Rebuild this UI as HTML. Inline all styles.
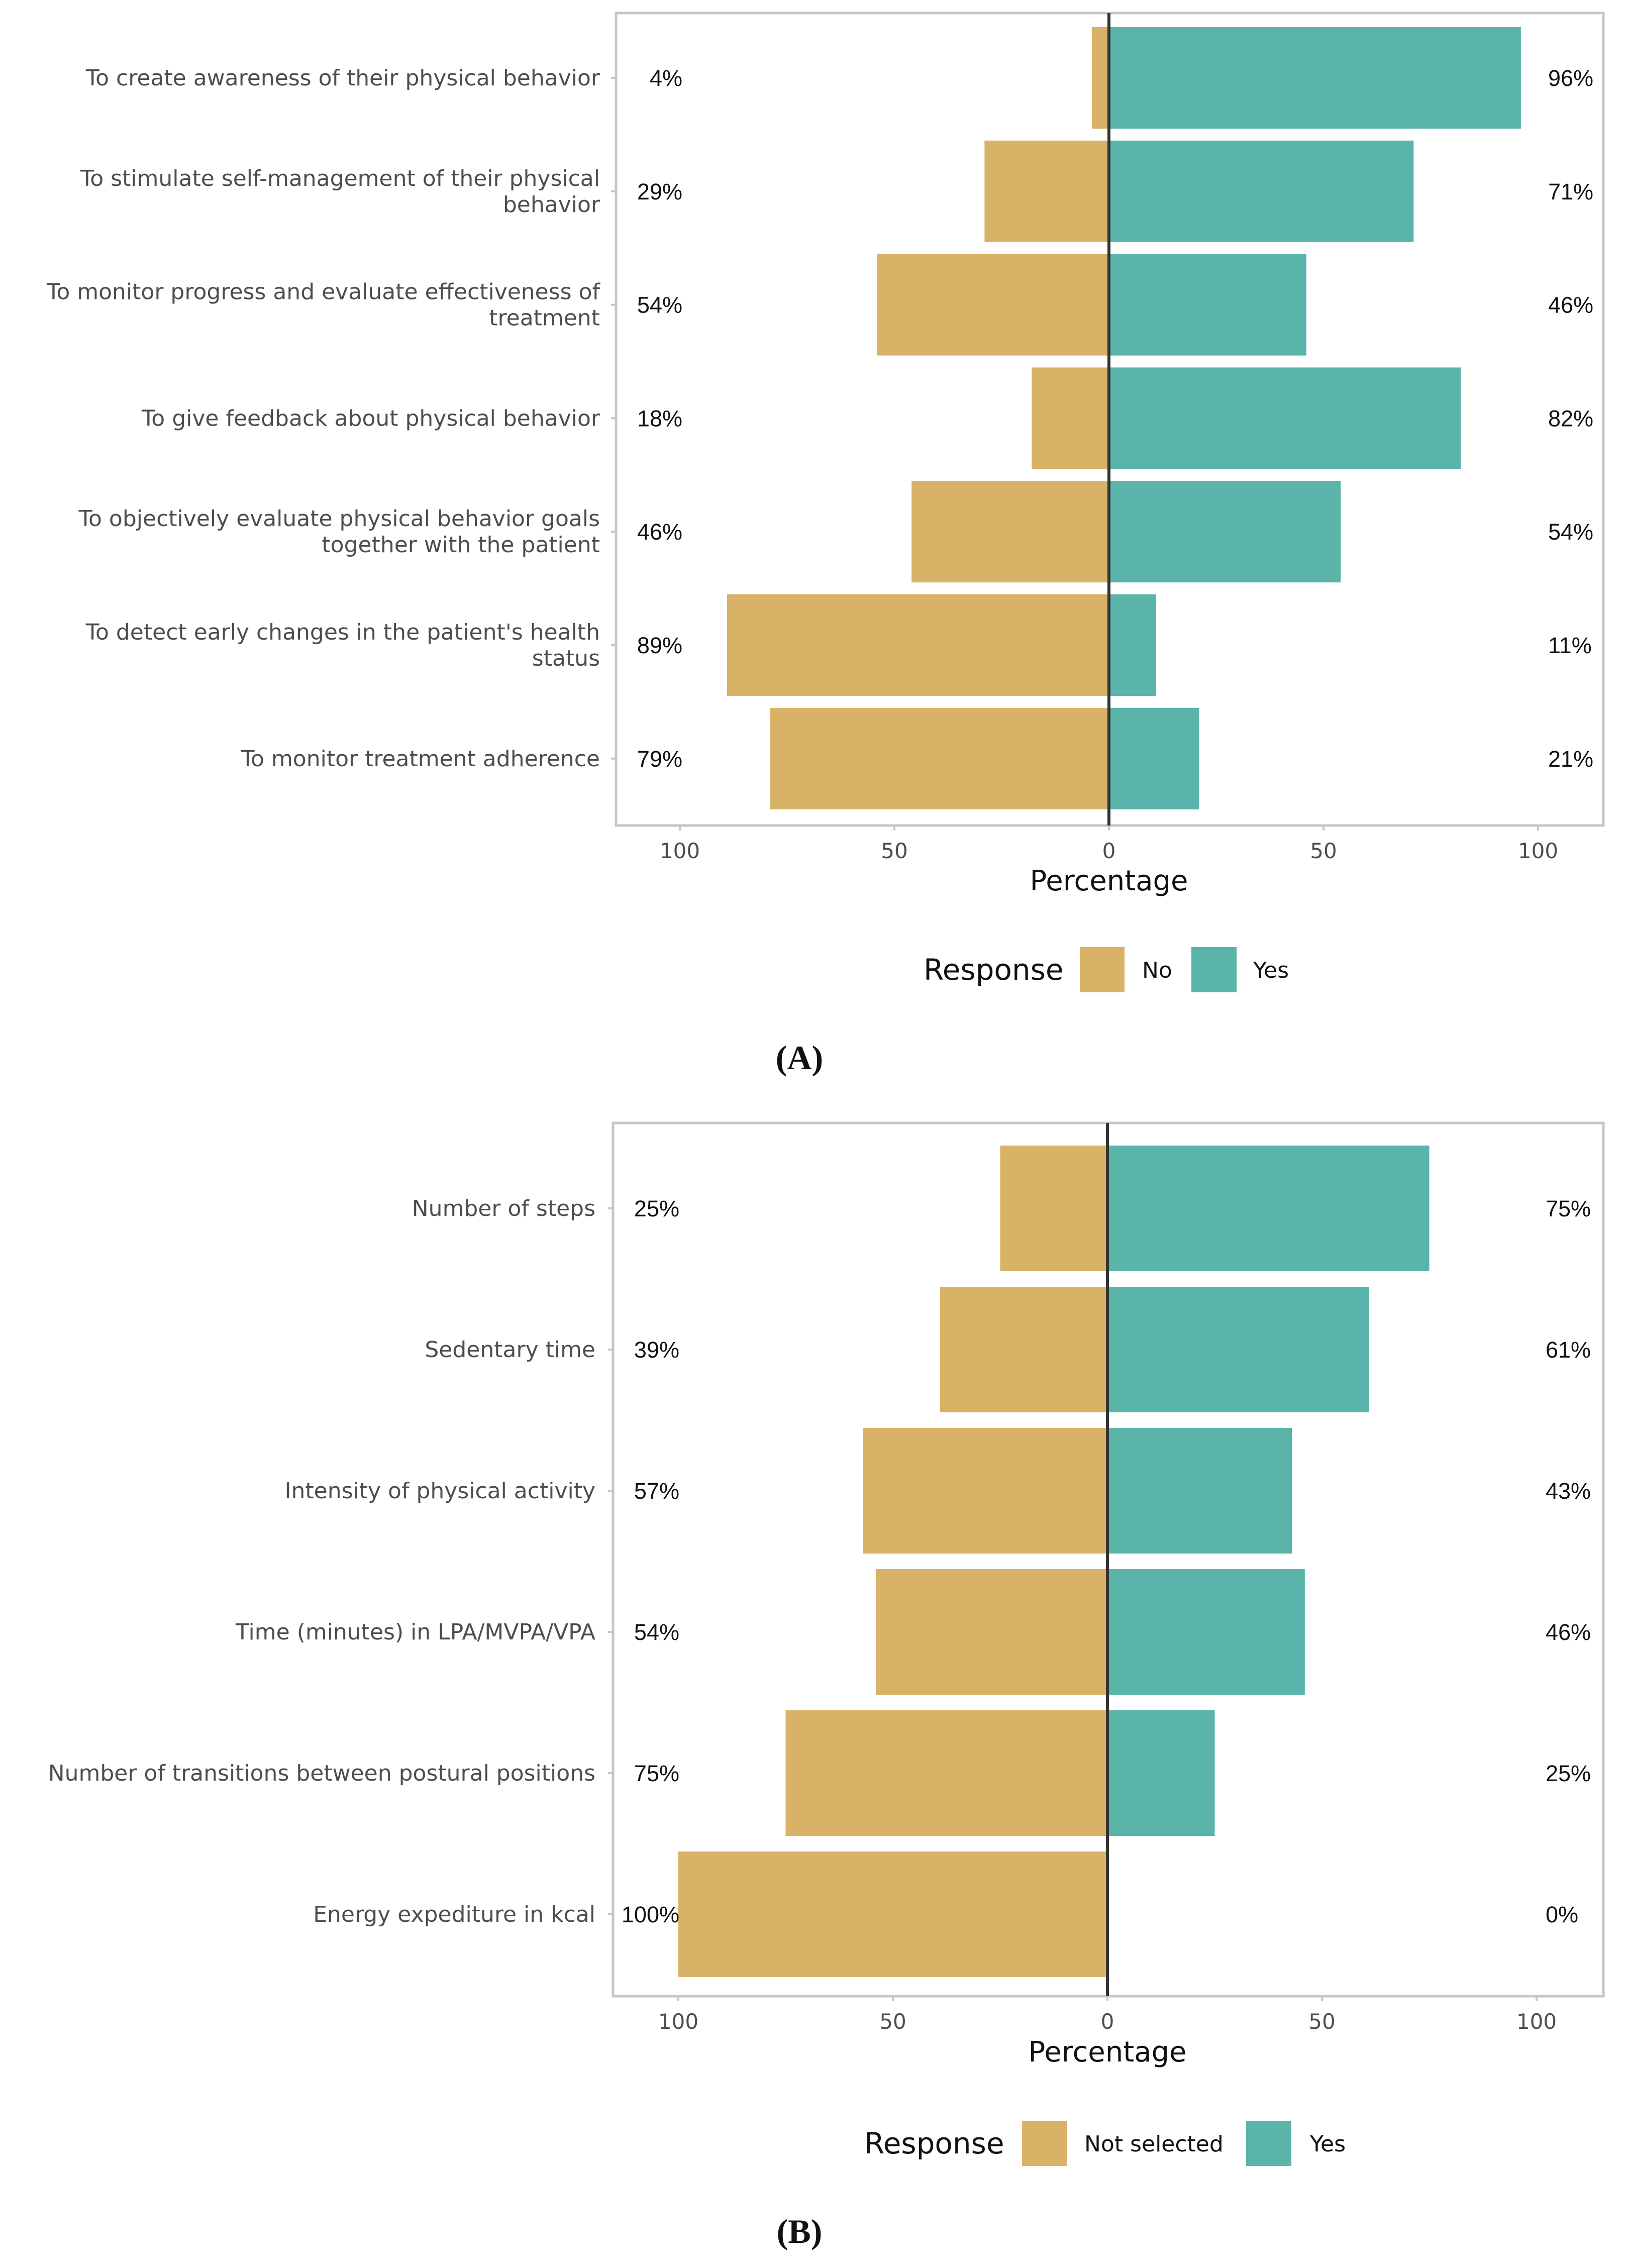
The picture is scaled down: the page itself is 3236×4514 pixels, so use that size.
<!DOCTYPE html>
<html><head><meta charset="utf-8"><style>
html,body{margin:0;padding:0;background:#fff;}
svg{display:block;font-family:"Liberation Sans",sans-serif;}
</style></head><body>
<svg id="svg" width="3236" height="4514" viewBox="0 0 3236 4514" xmlns="http://www.w3.org/2000/svg"></svg>
<script>
const catsA = [["To create awareness of their physical behavior"],["To stimulate self-management of their physical","behavior"],["To monitor progress and evaluate effectiveness of","treatment"],["To give feedback about physical behavior"],["To objectively evaluate physical behavior goals","together with the patient"],["To detect early changes in the patient's health","status"],["To monitor treatment adherence"]];
const noA = [4,29,54,18,46,89,79];
const yesA = [96,71,46,82,54,11,21];
const catsB = [["Number of steps"],["Sedentary time"],["Intensity of physical activity"],["Time (minutes) in LPA/MVPA/VPA"],["Number of transitions between postural positions"],["Energy expediture in kcal"]];
const noB = [25,39,57,54,75,100];
const yesB = [75,61,43,46,25,0];
const ticks = [-100,-50,0,50,100];
const tickLabels = ["100","50","0","50","100"];

const NS="http://www.w3.org/2000/svg";
const svg=document.getElementById('svg');
const WIDE='"DejaVu Sans", sans-serif';
function mk(tag,attrs,parent,name){const e=document.createElementNS(NS,tag);for(const k in attrs)e.setAttribute(k,attrs[k]);


(parent||svg).appendChild(e);return e;}
const GOLD="#D8B266",TEAL="#5BB4AA";

function panel(o){
  const g=mk('g',{},svg,o.id);
  const x=v=>o.x0+v*(o.x100-o.x0)/100;
  mk('rect',{x:o.L,y:o.T,width:o.R-o.L,height:o.B-o.T,fill:'#fff',stroke:'#c6c6c6','stroke-width':5},g,'panel-border');
  ticks.forEach((t,i)=>{
    mk('line',{x1:x(t),x2:x(t),y1:o.B,y2:o.B+10,stroke:'#c6c6c6','stroke-width':4},g,'x-tick');
    const tx=mk('text',{x:x(t),y:o.tickY,'font-size':42,fill:'#4d4d4d','text-anchor':'middle','font-family':WIDE},g,'x-tick-label');tx.textContent=tickLabels[i];
  });
  o.cats.forEach((c,i)=>{
    const cy=o.c0+i*o.step, h=o.bh;
    mk('rect',{x:x(-o.no[i]),y:cy-h/2,width:x(0)-x(-o.no[i]),height:h,fill:GOLD},g,'bar-no');
    mk('rect',{x:x(0),y:cy-h/2,width:x(o.yes[i])-x(0),height:h,fill:TEAL},g,'bar-yes');
    const n=c.length;
    c.forEach((ln,j)=>{const t=mk('text',{x:o.labX,y:cy+15+(j-(n-1)/2)*52,'font-size':44,fill:'#4d4d4d','text-anchor':'end','font-family':WIDE},g,'category-label');t.textContent=ln;});
    mk('line',{x1:o.L-10,x2:o.L,y1:cy,y2:cy,stroke:'#c6c6c6','stroke-width':4},g,'y-tick');
    const p=mk('text',{x:o.pnX,y:cy+16,'font-size':45,fill:'#111','text-anchor':'end'},g,'no-percent-label');p.textContent=o.no[i]+'%';
    const q=mk('text',{x:o.pyX,y:cy+16,'font-size':45,fill:'#111','text-anchor':'start'},g,'yes-percent-label');q.textContent=o.yes[i]+'%';
  });
  mk('line',{x1:x(0),x2:x(0),y1:o.T,y2:o.B,stroke:'#333','stroke-width':6},g,'zero-line');
  const at=mk('text',{x:x(0),y:o.axY,'font-size':56,fill:'#111','text-anchor':'middle','font-family':WIDE},g,'x-axis-title');at.textContent='Percentage';
  const lg=mk('g',{},g,'legend');
  const r=mk('text',{x:o.legX,y:o.legY+20,'font-size':58,fill:'#111','font-family':WIDE},lg,'legend-title');r.textContent='Response';
  mk('rect',{x:o.k1,y:o.legY-45,width:89,height:90,fill:GOLD},lg,'legend-key-no');
  const l1=mk('text',{x:o.t1,y:o.legY+16,'font-size':44,fill:'#111','font-family':WIDE},lg,'legend-label-no');l1.textContent=o.noName;
  mk('rect',{x:o.k2,y:o.legY-45,width:90,height:90,fill:TEAL},lg,'legend-key-yes');
  const l2=mk('text',{x:o.t2,y:o.legY+16,'font-size':44,fill:'#111','font-family':WIDE},lg,'legend-label-yes');l2.textContent='Yes';
  const cap=mk('text',{x:o.capX,y:o.capY,'font-size':68,'font-weight':'bold','font-family':'Liberation Serif, serif',fill:'#111','text-anchor':'middle'},g,'panel-caption');cap.textContent=o.cap;
}
panel({id:'panel-a',cats:catsA,no:noA,yes:yesA,L:1226,R:3191,T:26,B:1643,x0:2207,x100:3061,c0:155,step:225.8,bh:202,labX:1194,pnX:1358,pyX:3081,tickY:1708,axY:1772,legX:1838,legY:1930,k1:2149,t1:2273,k2:2371,t2:2494,noName:'No',capX:1591,capY:2128,cap:'(A)'});
panel({id:'panel-b',cats:catsB,no:noB,yes:yesB,L:1220,R:3191,T:2235,B:3973,x0:2204,x100:3058,c0:2405,step:281,bh:250,labX:1185,pnX:1352,pyX:3076,tickY:4038,axY:4103,legX:1720,legY:4266,k1:2034,t1:2158,k2:2480,t2:2607,noName:'Not selected',capX:1591,capY:4464,cap:'(B)'});
</script>
</body></html>
